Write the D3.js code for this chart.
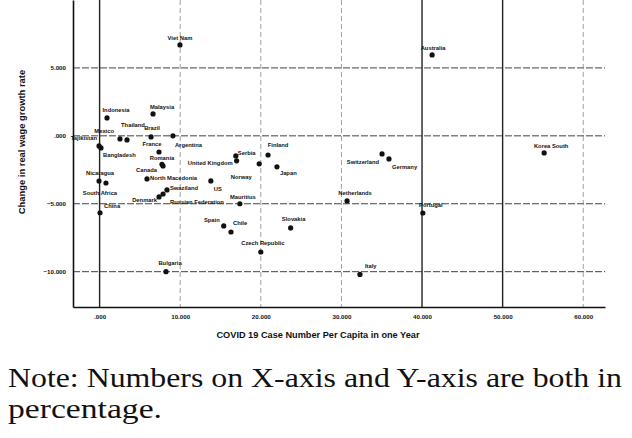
<!DOCTYPE html>
<html>
<head>
<meta charset="utf-8">
<script src="https://cdn.jsdelivr.net/npm/d3@7"></script>
<style>
  body { margin: 0; background: #fff; }
  svg { display: block; }
</style>
</head>
<body>
<svg id="chart" width="632" height="438"></svg>
<script>
// values (x = cases per capita %, y = change in real wage growth %)
const countries = ["Viet Nam", "Australia", "Korea South", "Switzerland", "Germany", "Netherlands",
  "Portugal", "Italy", "Czech Republic", "Slovakia", "Spain", "Chile", "Bulgaria", "Mauritius",
  "Indonesia", "Malaysia", "Mexico", "Thailand", "Brazil", "Argentina", "Tajikistan", "Bangladesh",
  "France", "Romania", "Canada", "Nicaragua", "South Africa", "China", "North Macedonia", "Denmark",
  "Russian Federation", "Swaziland", "US", "Serbia", "United Kingdom", "Norway", "Finland", "Japan"]
const casesPerCapita = [9.97, 41.25, 55.15, 35.04, 35.9, 30.7,
  40.1, 32.3, 20.0, 23.7, 15.4, 16.3, 8.24, 17.4,
  0.92, 6.63, 2.53, 3.4, 6.38, 9.1, -0.07, 0.17,
  7.37, 7.74, 7.87, -0.07, 0.79, 0.05, 5.88, 7.37,
  7.87, 8.36, 13.8, 16.9, 17.0, 19.8, 20.9, 22.0]
const wageChange = [6.69, 5.96, -1.26, -1.33, -1.70, -4.79,
  -5.68, -10.2, -8.55, -6.78, -6.63, -7.08, -10.0, -5.0,
  1.32, 1.61, -0.23, -0.3, -0.08, 0.0, -0.74, -0.89,
  -1.19, -2.1, -2.22, -3.33, -3.47, -5.66, -3.17, -4.5,
  -4.28, -3.98, -3.32, -1.48, -1.84, -2.06, -1.41, -2.28]

const xTicks = [0, 10, 20, 30, 40, 50, 60]
const yTicks = [5, 0, -5, -10]
const darkXLines = [0, 40, 50]

// where each label sits next to its dot: [dx, dy, anchor]
const labelPlace = {
  "Viet Nam": [0, -7, "middle"], "Australia": [1, -7, "middle"], "Korea South": [7, -7, "middle"],
  "Switzerland": [-3, 8, "end"], "Germany": [3, 8, "start"], "Netherlands": [8, -8, "middle"],
  "Portugal": [8, -8, "middle"], "Italy": [5, -8, "start"], "Czech Republic": [2, -9, "middle"],
  "Slovakia": [3, -9, "middle"], "Spain": [-4, -6, "end"], "Chile": [2, -9, "start"],
  "Bulgaria": [4, -9, "middle"], "Mauritius": [3, -7, "middle"], "Indonesia": [9, -8, "middle"],
  "Malaysia": [9, -7, "middle"], "Mexico": [-6, -8, "end"], "Thailand": [6, -15, "middle"],
  "Brazil": [1, -9, "middle"], "Argentina": [2, 9, "start"], "Tajikistan": [-2, -8, "end"],
  "Bangladesh": [2, 7, "start"], "France": [-7, -8, "middle"], "Romania": [0, -6, "middle"],
  "Canada": [-6, 4, "end"], "Nicaragua": [1, -8, "middle"], "South Africa": [-6, 10, "middle"],
  "China": [4, -7, "start"], "North Macedonia": [3, -1, "start"], "Denmark": [-2, 3, "end"],
  "Russian Federation": [7, 8, "start"], "Swaziland": [3, -2, "start"], "US": [3, 8, "start"],
  "Serbia": [2, -3, "start"], "United Kingdom": [-4, 2, "end"], "Norway": [-18, 13, "middle"],
  "Finland": [10, -10, "middle"], "Japan": [3, 6, "start"]
}

const points = countries.map((c, i) => ({ name: c, x: casesPerCapita[i], y: wageChange[i] }))

const svg = d3.select("#chart")
svg.append("rect").attr("width", 632).attr("height", 438).attr("fill", "#fff")

const x = d3.scaleLinear().domain([-3.3, 62.7]).range([73, 605])
const y = d3.scaleLinear().domain([-12.6, 10]).range([307, 0])
const fmt = v => v === 0 ? ".000" : d3.format(".3f")(v)

// grid
svg.append("g").selectAll("line").data(yTicks).join("line")
    .attr("x1", 73).attr("x2", 605)
    .attr("y1", d => y(d)).attr("y2", d => y(d))
    .attr("stroke", "#444").attr("stroke-width", 1)
    .attr("stroke-dasharray", "7,2")
svg.append("g").selectAll("line").data(xTicks).join("line")
    .attr("x1", d => x(d)).attr("x2", d => x(d))
    .attr("y1", 0).attr("y2", 307)
    .attr("stroke", d => darkXLines.includes(d) ? "#222" : "#888")
    .attr("stroke-width", d => darkXLines.includes(d) ? 1.4 : 0.8)
    .attr("stroke-dasharray", d => darkXLines.includes(d) ? null : "5,3")

// axes
const xAxis = svg.append("g")
    .attr("transform", "translate(0,307)")
    .call(d3.axisBottom(x).tickValues(xTicks).tickFormat(fmt).tickSize(0).tickPadding(8))
const yAxis = svg.append("g")
    .attr("transform", "translate(73,0)")
    .call(d3.axisLeft(y).tickValues(yTicks).tickFormat(fmt).tickSize(0).tickPadding(7))
xAxis.select(".domain").attr("stroke", "#111").attr("stroke-width", 1.6)
yAxis.select(".domain").attr("stroke", "#111").attr("stroke-width", 1.6)
svg.selectAll(".tick text")
    .attr("font-family", "Arial, 'Liberation Sans', sans-serif")
    .attr("font-size", 6.2).attr("font-weight", "bold").attr("fill", "#111")

svg.append("text")
    .attr("x", 318).attr("y", 338).attr("text-anchor", "middle")
    .attr("font-family", "Arial, 'Liberation Sans', sans-serif")
    .attr("font-size", 9.2).attr("font-weight", "bold").attr("fill", "#111")
    .text("COVID 19 Case Number Per Capita in one Year")
svg.append("text")
    .attr("transform", "translate(25,142) rotate(-90)")
    .attr("text-anchor", "middle")
    .attr("font-family", "Arial, 'Liberation Sans', sans-serif")
    .attr("font-size", 9.4).attr("font-weight", "bold").attr("fill", "#111")
    .text("Change in real wage growth rate")

// points and labels
svg.append("g").selectAll("circle").data(points).join("circle")
    .attr("cx", d => x(d.x)).attr("cy", d => y(d.y))
    .attr("r", 2.6).attr("fill", "#111")
svg.append("g").selectAll("text").data(points).join("text")
    .attr("x", d => x(d.x) + labelPlace[d.name][0])
    .attr("y", d => y(d.y) + labelPlace[d.name][1])
    .attr("dy", "0.35em")
    .attr("text-anchor", d => labelPlace[d.name][2])
    .attr("font-family", "Arial, 'Liberation Sans', sans-serif")
    .attr("font-size", 5.8).attr("font-weight", "bold").attr("fill", "#111")
    .text(d => d.name)

// note under the figure (two separate lines)
const noteFont = "'Liberation Serif', 'Times New Roman', serif"
svg.append("text").attr("x", 8).attr("y", 387)
    .attr("font-family", noteFont).attr("font-size", 27.5).attr("fill", "#111")
    .attr("textLength", 614).attr("lengthAdjust", "spacingAndGlyphs")
    .text("Note: Numbers on X-axis and Y-axis are both in")
svg.append("text").attr("x", 8).attr("y", 418)
    .attr("font-family", noteFont).attr("font-size", 27.5).attr("fill", "#111")
    .attr("textLength", 154).attr("lengthAdjust", "spacingAndGlyphs")
    .text("percentage.")
</script>
</body>
</html>
